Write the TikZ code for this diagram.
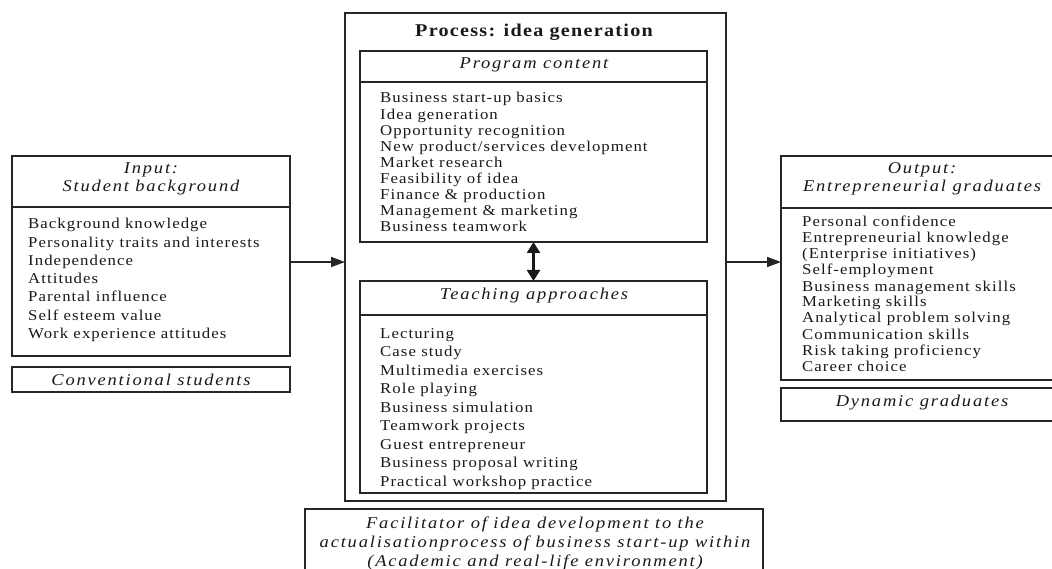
\documentclass[tikz,border=0pt]{standalone}
\usepackage{fontspec}
\setmainfont{Liberation Serif}
\newfontfamily\listfont[FakeStretch=1.12, LetterSpace=7]{Liberation Serif}
\newfontfamily\headfont[FakeStretch=1.12, LetterSpace=11]{Liberation Serif}
\newfontfamily\titlefont[FakeStretch=1.12, LetterSpace=7]{Liberation Serif}
\usetikzlibrary{arrows.meta}

\begin{document}
\begin{tikzpicture}[x=1pt, y=-1pt,
  box/.style={draw=black!85, line width=1.6pt, inner sep=0pt, outer sep=0pt, anchor=north west},
  rule/.style={draw=black!85, line width=1.6pt},
  item/.style={anchor=base west, inner sep=0pt, text=black!90, font=\listfont\fontsize{15}{17}\selectfont},
  head/.style={inner sep=0pt, text=black!90, font=\headfont\itshape\fontsize{16.5}{18}\selectfont},
  tip/.tip={Triangle[length=14pt, width=10pt]},
  link/.style={draw=black!85, line width=1.6pt, -tip},
  twotip/.tip={Triangle[length=11pt, width=13pt]},
  twoway/.style={draw=black!90, line width=2.4pt, twotip-twotip}]

\useasboundingbox (0,0) rectangle (1052,569);

% ---------- input block ----------
\node[box, minimum width=278pt, minimum height=200pt] (input) at (12,156) {};
\draw[rule] (12,207) -- (290,207);
\node[head] (inT1) at (151,170) {Input:};
\node[head] (inT2) at (151,188) {Student background};
\foreach \t [count=\i] in {Background knowledge, Personality traits and interests,
    Independence, Attitudes, Parental influence, Self esteem value,
    Work experience attitudes}
  \node[item] (in\i) at (28, {229 + 18.2*(\i-1)}) {\t};
\node[box, minimum width=278pt, minimum height=25pt] (conv) at (12,367) {};
\node[head] (convT) at (151,380) {Conventional students};

% ---------- process block ----------
\node[box, minimum width=381pt, minimum height=488pt] (proc) at (345,13) {};
\node[inner sep=0pt, text=black!90, font=\titlefont\bfseries\fontsize{18}{20}\selectfont]
  (procT) at (534,32) {Process: idea generation};

\node[box, minimum width=347pt, minimum height=191pt] (prog) at (360,51) {};
\draw[rule] (360,82) -- (707,82);
\node[head] (progT) at (534,65) {Program content};
\foreach \t [count=\i] in {Business start-up basics, Idea generation,
    Opportunity recognition, New product/services development, Market research,
    Feasibility of idea, Finance \& production, Management \& marketing,
    Business teamwork}
  \node[item] (pc\i) at (380, {103 + 16.1*(\i-1)}) {\t};

\node[box, minimum width=347pt, minimum height=212pt] (teach) at (360,281) {};
\draw[rule] (360,315) -- (707,315);
\node[head] (teachT) at (534,296) {Teaching approaches};
\foreach \t [count=\i] in {Lecturing, Case study, Multimedia exercises,
    Role playing, Business simulation, Teamwork projects, Guest entrepreneur,
    Business proposal writing, Practical workshop practice}
  \node[item] (ta\i) at (380, {338 + 18.5*(\i-1)}) {\t};

\draw[twoway] (prog.south) -- (teach.north);

% ---------- output block ----------
\node[box, minimum width=279pt, minimum height=224pt] (output) at (781,156) {};
\draw[rule] (781,208) -- (1060,208);
\node[head] (outT1) at (922,170) {Output:};
\node[head] (outT2) at (922,188) {Entrepreneurial graduates};
\foreach \t [count=\i] in {Personal confidence, Entrepreneurial knowledge,
    {(Enterprise initiatives)}, Self-employment, Business management skills,
    Marketing skills, Analytical problem solving, Communication skills,
    Risk taking proficiency, Career choice}
  \node[item] (og\i) at (802, {227 + 16*(\i-1)}) {\t};
\node[box, minimum width=279pt, minimum height=33pt] (dyn) at (781,388) {};
\node[head] (dynT) at (922,403) {Dynamic graduates};

% ---------- facilitator note ----------
\node[box, minimum width=458pt, minimum height=75pt] (fac) at (305,509) {};
\node[head] (fac1) at (535,524) {Facilitator of idea development to the};
\node[head] (fac2) at (535,543) {actualisationprocess of business start-up within};
\node[head] (fac3) at (535,562) {(Academic and real-life environment)};

% ---------- flow ----------
\draw[link] (input.east |- 0,262) -- (proc.west |- 0,262);
\draw[link] (proc.east |- 0,262) -- (output.west |- 0,262);
\end{tikzpicture}
\end{document}
